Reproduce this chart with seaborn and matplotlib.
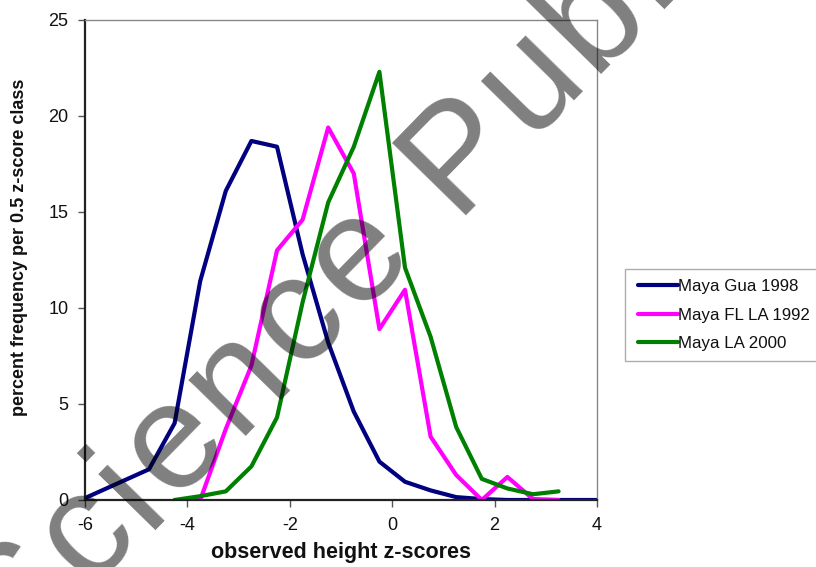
import math
import matplotlib
matplotlib.use("Agg")
import matplotlib.pyplot as plt
from matplotlib.legend_handler import HandlerLine2D
import seaborn as sns
import pandas as pd

# z-score class midpoints and percent frequencies per 0.5 z-score class
gua_x = [-6.0, -4.75, -4.25, -3.75, -3.25, -2.75, -2.25, -1.75, -1.25, -0.75,
         -0.25, 0.25, 0.75, 1.25, 1.75, 2.25, 2.75, 3.25, 3.75, 4.0]
gua_y = [0.1, 1.6, 4.0, 11.4, 16.1, 18.7, 18.4, 12.8, 8.2, 4.6,
         2.0, 0.95, 0.5, 0.15, 0.05, 0.0, 0.0, 0.0, 0.0, 0.0]

fl_x = [-4.25, -3.75, -3.25, -2.75, -2.25, -1.75, -1.25, -0.75, -0.25, 0.25,
        0.75, 1.25, 1.75, 2.25, 2.75, 3.25]
fl_y = [0.0, 0.0, 3.7, 7.0, 13.0, 14.6, 19.4, 17.0, 8.9, 10.95,
        3.3, 1.3, 0.0, 1.2, 0.05, 0.0]

la_x = [-4.25, -3.75, -3.25, -2.75, -2.25, -1.75, -1.25, -0.75, -0.25, 0.25,
        0.75, 1.25, 1.75, 2.25, 2.75, 3.25]
la_y = [0.0, 0.2, 0.45, 1.75, 4.3, 10.3, 15.5, 18.4, 22.3, 12.1,
        8.5, 3.8, 1.1, 0.6, 0.3, 0.45]

series_names = ["Maya Gua 1998", "Maya FL LA 1992", "Maya LA 2000"]
series_colors = ["#000080", "#FF00FF", "#008000"]

x_ticks = [-6, -4, -2, 0, 2, 4]
y_ticks = [0, 5, 10, 15, 20, 25]

watermark = "Science Publishing"

frames = []
for name, xs, ys in zip(series_names, [gua_x, fl_x, la_x], [gua_y, fl_y, la_y]):
    frames.append(pd.DataFrame({"z": xs, "pct": ys, "group": name}))
df = pd.concat(frames, ignore_index=True)

sns.set_theme(style="white")
plt.rcParams["font.family"] = ["Liberation Sans", "DejaVu Sans"]

W, H = 816, 567
fig = plt.figure(figsize=(W / 100, H / 100), dpi=100)
ax = fig.add_axes([85 / W, 1 - 500 / H, 512 / W, 480 / H])

sns.lineplot(data=df, x="z", y="pct", hue="group", hue_order=series_names,
             palette=dict(zip(series_names, series_colors)), sort=False,
             estimator=None, linewidth=3.0, ax=ax, legend=False)

ax.set_xlim(-6, 4)
ax.set_ylim(0, 25)
ax.set_xticks(x_ticks)
ax.set_xticklabels([str(t) for t in x_ticks])
ax.set_yticks(y_ticks)
ax.set_yticklabels([str(t) for t in y_ticks])
ax.tick_params(axis="both", which="major", direction="out", length=5, width=1,
               color="#555555", labelsize=13, labelcolor="#111111", pad=7,
               left=True, bottom=True)

for side in ("left", "bottom"):
    ax.spines[side].set_color("#222222")
    ax.spines[side].set_linewidth(1.6)
for side in ("top", "right"):
    ax.spines[side].set_color("#888888")
    ax.spines[side].set_linewidth(1.0)
    ax.spines[side].set_visible(True)

ax.set_xlabel("observed height z-scores", fontsize=15.5, fontweight="bold",
              color="#111111", labelpad=6)
ax.set_ylabel("percent frequency per 0.5 z-score class", fontsize=13,
              fontweight="bold", color="#111111")
ax.yaxis.set_label_coords((28 - 85) / 512, (500 - 247) / 480)

handles = [plt.Line2D([], [], color=c, linewidth=3.0) for c in series_colors]
leg = fig.legend(handles, series_names, loc="upper left",
                 bbox_to_anchor=(625 / W, 1 - 269 / H), frameon=True,
                 fancybox=False, fontsize=12.2, handlelength=2.54,
                 handletextpad=0.0, labelspacing=0.8, borderpad=0.6,
                 borderaxespad=0,
                 handler_map={plt.Line2D: HandlerLine2D(xpad=0.17)})
leg.get_frame().set_edgecolor("#999999")
leg.get_frame().set_linewidth(1.0)
for t in leg.get_texts():
    t.set_color("#111111")

# diagonal semi-transparent watermark, laid out glyph by glyph with tracking
advance = {"S": 0.667, "c": 0.5, "i": 0.222, "e": 0.556, "n": 0.556,
           " ": 0.278, "P": 0.667, "u": 0.556, "b": 0.556, "l": 0.222,
           "s": 0.5, "h": 0.556, "g": 0.556}
em_px = 151.0
track_px = 6.3
angle = 45.6
ux, uy = math.cos(math.radians(angle)), math.sin(math.radians(angle))
px0, py0 = 13.0, H - 664.0  # baseline start, pixels from bottom-left
dist = 0.0
for ch in watermark:
    if ch != " ":
        fig.text((px0 + dist * ux) / W, (py0 + dist * uy) / H, ch,
                 rotation=angle, rotation_mode="anchor", ha="left",
                 va="baseline", fontsize=em_px * 72 / 100,
                 family="Liberation Sans", color="black", alpha=0.5,
                 zorder=10)
    dist += advance[ch] * em_px + track_px

fig.savefig("out.png", dpi=100)
